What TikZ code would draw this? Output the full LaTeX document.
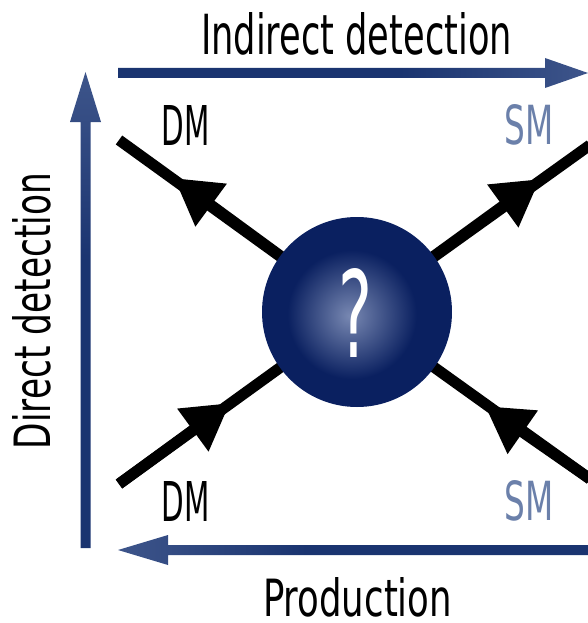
\documentclass[tikz,border=0pt]{standalone}
\usepackage{fontspec}
\setmainfont{DejaVu Sans}
\usetikzlibrary{arrows.meta}
\definecolor{navy}{HTML}{1A3470}
\definecolor{navylight}{HTML}{6A7EAB}
\definecolor{balldark}{HTML}{0A2060}
\definecolor{ballcore}{HTML}{7888B2}
\definecolor{smcol}{HTML}{6B80AA}
\pgfdeclarehorizontalshading{axisfade}{100bp}{color(0bp)=(navy); color(55bp)=(navy); color(100bp)=(navylight)}
\pgfdeclareradialshading{ballshade}{\pgfpoint{-2bp}{-1bp}}{color(0bp)=(ballcore); color(17bp)=(balldark); color(50bp)=(balldark)}
\newcommand{\fittext}[3]{\resizebox{#1pt}{#2pt}{#3}}
\tikzset{
  ln/.style={line width=11pt, black},
  headtip/.style={-{Triangle[length=46pt,width=50pt]}},
  lbl/.style={inner sep=0pt, anchor=center},
  axis/.style={shading=axisfade},
  ball/.style={circle, minimum size=190pt, inner sep=0pt, shade, shading=ballshade, text=white}
}
\begin{document}
\begin{tikzpicture}[x=1pt, y=-1pt]
\useasboundingbox (0,0) rectangle (588,623);
% axes
\shade[axis, shading angle=0] (118,68) -- (545,68) -- (545,58) -- (588,73) -- (545,88) -- (545,78) -- (118,78) -- cycle;
\shade[axis, shading angle=90] (80.5,548) -- (80.5,122) -- (70,122) -- (85.5,72) -- (101,122) -- (90.5,122) -- (90.5,548) -- cycle;
\shade[axis, shading angle=180] (588,545) -- (168,545) -- (168,535) -- (118,550) -- (168,565) -- (168,555) -- (588,555) -- cycle;
% lines
\coordinate (c) at (357,312);
\coordinate (e1) at (119,140); \coordinate (t1) at (174,178);
\coordinate (e2) at (590,145); \coordinate (t2) at (540,179);
\coordinate (e3) at (119,484); \coordinate (t3) at (230,403);
\coordinate (e4) at (590,479); \coordinate (t4) at (485,406);
\draw[ln] (c) -- (e1);
\draw[ln] (c) -- (e2);
\draw[ln] (e3) -- (c);
\draw[ln] (e4) -- (c);
\draw[ln, headtip] (c) -- (t1);
\draw[ln, headtip] (c) -- (t2);
\draw[ln, headtip] (e3) -- (t3);
\draw[ln, headtip] (e4) -- (t4);
% blob
\node[ball] (q) at (c) {};
\node[lbl, text=white] (qm) at (356,312.5) {\fittext{34}{89}{?}};
% labels
\node[lbl] (dmTop) at (185.5,125) {\fittext{48}{40}{DM}};
\node[lbl, text=smcol] (smTop) at (529,125) {\fittext{49}{40}{SM}};
\node[lbl] (dmBot) at (185.5,501) {\fittext{48}{40}{DM}};
\node[lbl, text=smcol] (smBot) at (529,501) {\fittext{49}{40}{SM}};
\node[lbl] (ind) at (356.5,33.5) {\fittext{311}{42}{Indirect detection}};
\node[lbl] (prod) at (357.5,597.5) {\fittext{189}{39}{Production}};
\node[lbl, rotate=90] (dir) at (31.5,311) {\fittext{276}{38}{Direct detection}};
\end{tikzpicture}
\end{document}
